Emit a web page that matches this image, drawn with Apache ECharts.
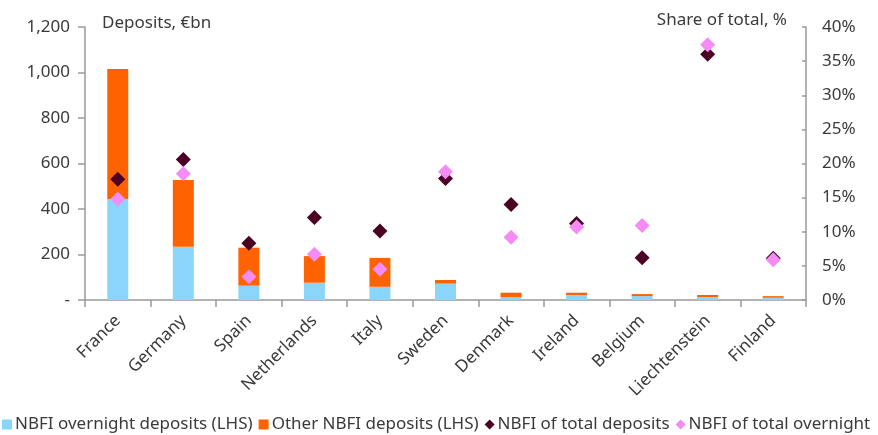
<!DOCTYPE html>
<html>
<head>
<meta charset="utf-8">
<script src="https://cdn.jsdelivr.net/npm/echarts@6/dist/echarts.min.js"></script>
<style>
  html, body { margin: 0; padding: 0; background: #fff; }
  #chart { width: 878px; height: 435px; }
</style>
</head>
<body>
<div id="chart"></div>
<script>
// Countries along the x-axis
const countries = ['France', 'Germany', 'Spain', 'Netherlands', 'Italy', 'Sweden',
  'Denmark', 'Ireland', 'Belgium', 'Liechtenstein', 'Finland'];

// Deposits, €bn (left axis, stacked)
const overnightDeposits = [444, 234, 63, 76, 58, 72, 12, 22, 17, 13, 10];
const otherDeposits = [571, 293, 167, 117, 127, 16, 20, 10, 9, 9, 7];

// Share of total, % (right axis)
const shareOfTotalDeposits = [17.7, 20.6, 8.3, 12.1, 10.1, 17.8, 14.0, 11.2, 6.2, 36.0, 6.1];
const shareOfTotalOvernight = [14.8, 18.5, 3.4, 6.7, 4.5, 18.8, 9.2, 10.7, 10.9, 37.4, 5.9];

// Axis ticks
const leftTicks = [0, 200, 400, 600, 800, 1000, 1200];
const rightTicks = [0, 5, 10, 15, 20, 25, 30, 35, 40];

const FONT = 'Noto Sans';
const TEXT = '#3a3a3a';
const AXIS = '#9a9a9a';
const FS = 17;

const chart = echarts.init(document.getElementById('chart'), null, { renderer: 'canvas' });

chart.setOption({
  animation: false,
  textStyle: { fontFamily: FONT, color: TEXT },
  grid: { left: 85, right: 72, top: 27, bottom: 135, containLabel: false },
  graphic: [
    { type: 'text', left: 102, top: 15,
      style: { text: 'Deposits, €bn', font: FS + 'px "Noto Sans"', fill: TEXT } },
    { type: 'text', right: 91, top: 12,
      style: { text: 'Share of total, %', font: FS + 'px "Noto Sans"', fill: TEXT } }
  ],
  legend: {
    bottom: 2, left: 2, width: 876, padding: 0,
    itemWidth: 10, itemHeight: 10, itemGap: 6,
    textStyle: { fontFamily: FONT, fontSize: 17, color: TEXT, padding: [0, 0, 0, -2] },
    data: [
      { name: 'NBFI overnight deposits (LHS)', icon: 'rect' },
      { name: 'Other NBFI deposits (LHS)', icon: 'rect' },
      { name: 'NBFI of total deposits', icon: 'diamond' },
      { name: 'NBFI of total overnight', icon: 'diamond' }
    ]
  },
  xAxis: {
    type: 'category',
    data: countries,
    axisLine: { lineStyle: { color: AXIS, width: 1.5 } },
    axisTick: { show: true, length: 7, lineStyle: { color: AXIS, width: 1.5 } },
    axisLabel: { rotate: 45, fontFamily: FONT, fontSize: FS, color: TEXT, margin: 18, interval: 0 }
  },
  yAxis: [
    {
      type: 'value', min: leftTicks[0], max: leftTicks[leftTicks.length - 1], interval: 200,
      axisLine: { show: true, lineStyle: { color: AXIS, width: 1.5 } },
      axisTick: { show: true, length: 7, lineStyle: { color: AXIS, width: 1.5 } },
      splitLine: { show: false },
      axisLabel: {
        margin: 15, fontFamily: FONT, fontSize: FS, color: TEXT,
        formatter: v => v === 0 ? '-' : v.toLocaleString('en-US')
      }
    },
    {
      type: 'value', min: rightTicks[0], max: rightTicks[rightTicks.length - 1], interval: 5,
      position: 'right',
      axisLine: { show: true, lineStyle: { color: AXIS, width: 1.5 } },
      axisTick: { show: true, inside: true, length: 4, lineStyle: { color: AXIS, width: 1.5 } },
      splitLine: { show: false },
      axisLabel: { margin: 16, fontFamily: FONT, fontSize: FS, color: TEXT, formatter: '{value}%' }
    }
  ],
  series: [
    {
      name: 'NBFI overnight deposits (LHS)', type: 'bar', stack: 'dep', yAxisIndex: 0,
      barWidth: 21, data: overnightDeposits, itemStyle: { color: '#89D6FA' }
    },
    {
      name: 'Other NBFI deposits (LHS)', type: 'bar', stack: 'dep', yAxisIndex: 0,
      barWidth: 21, data: otherDeposits, itemStyle: { color: '#FF6200' }
    },
    {
      name: 'NBFI of total deposits', type: 'scatter', yAxisIndex: 1,
      symbol: 'diamond', symbolSize: 15, data: shareOfTotalDeposits,
      itemStyle: { color: '#4B0024', opacity: 1 }, z: 3
    },
    {
      name: 'NBFI of total overnight', type: 'scatter', yAxisIndex: 1,
      symbol: 'diamond', symbolSize: 15, data: shareOfTotalOvernight,
      itemStyle: { color: '#F58CF5', opacity: 1 }, z: 4
    }
  ]
});
</script>
</body>
</html>
